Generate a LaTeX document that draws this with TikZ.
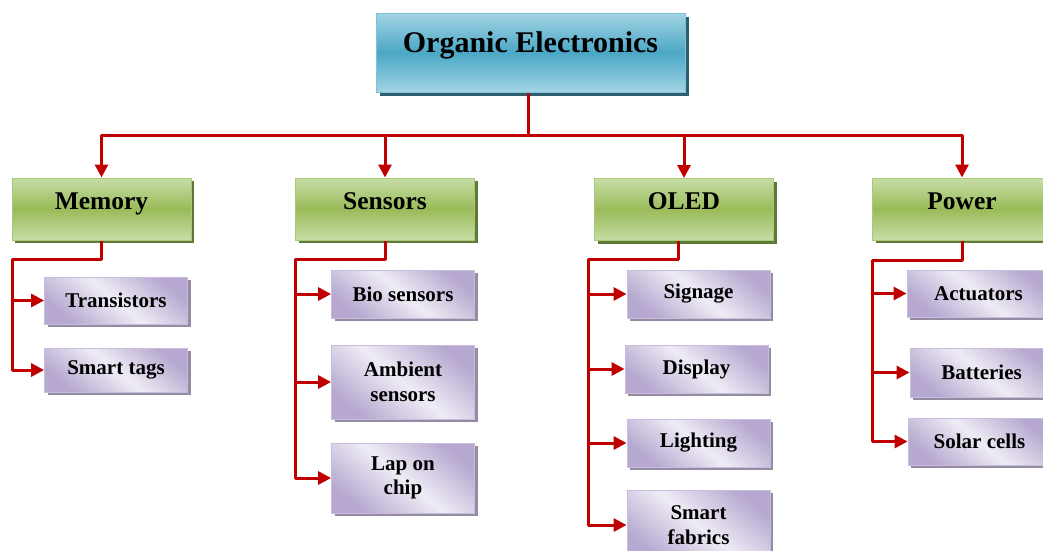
\documentclass[tikz,border=0pt]{standalone}
\usepackage{fontspec}
\setmainfont{Liberation Serif}
\usetikzlibrary{arrows.meta,shadows,calc}
\definecolor{topl}{HTML}{A3D4E4}
\definecolor{topm}{HTML}{4BA7C6}
\definecolor{topb}{HTML}{7EC3D8}
\definecolor{tops}{HTML}{2F5F6E}
\definecolor{grl}{HTML}{C6DDA6}
\definecolor{grm}{HTML}{9BBB59}
\definecolor{grb}{HTML}{A9C87A}
\definecolor{grs}{HTML}{5F7A38}
\definecolor{pud}{HTML}{B6A8D0}
\definecolor{pul}{HTML}{EFECF5}
\definecolor{pub}{HTML}{C8BDDC}
\definecolor{pus}{HTML}{938CA3}
\definecolor{linkred}{HTML}{C00000}
\tikzset{
  topbox/.style={draw=topb, line width=1pt, top color=topl, bottom color=topl, middle color=topm,
    minimum width=309pt, minimum height=79pt, font=\fontsize{30}{34}\selectfont\bfseries,
    text height=20pt, text depth=20pt,
    drop shadow={shadow xshift=4pt, shadow yshift=-4pt, fill=tops, opacity=1}},
  catbox/.style={draw=grb, line width=1pt, top color=grl, bottom color=grl, middle color=grm,
    minimum width=179pt, minimum height=62pt, font=\fontsize{25.5}{28}\selectfont\bfseries,
    text height=15pt, text depth=15pt,
    drop shadow={shadow xshift=3pt, shadow yshift=-3pt, fill=grs, opacity=1}},
  itembox/.style={draw=pub, line width=0.8pt, top color=pud, bottom color=pud, middle color=pul,
    shading angle=-40, minimum width=143pt, align=center,
    font=\fontsize{21}{24.5}\selectfont\bfseries,
    drop shadow={shadow xshift=3pt, shadow yshift=-3pt, fill=pus, opacity=1}},
  link/.style={draw=linkred, line width=3pt, line join=round},
  arr/.style={link, -{Triangle[length=13pt,width=13pt]}}
}
\begin{document}
\begin{tikzpicture}[x=1pt,y=-1pt]
\useasboundingbox (0,0) rectangle (1043,550);
\clip (0,0) rectangle (1043,550);
\fill[white] (0,0) rectangle (1043,550);

% top
\node[topbox] (top) at (530.5,52.5) {Organic Electronics};

% categories
\node[catbox] (mem) at (101.5,209) {Memory};
\node[catbox] (sen) at (385,209) {Sensors};
\node[catbox] (ol) at (684,209.5) {OLED};
\node[catbox] (pow) at (962,209) {Power};

% items
\node[itembox, minimum height=47pt] (tra) at (116,300.5) {Transistors};
\node[itembox, minimum height=44pt] (sma) at (116,370) {Smart tags};

\node[itembox, minimum height=48pt] (bio) at (403,294) {Bio sensors};
\node[itembox, minimum height=74pt] (amb) at (403,382) {Ambient\\sensors};
\node[itembox, minimum height=70pt] (lap) at (403,478) {Lap on\\chip};

\node[itembox, minimum height=48pt] (sig) at (698.5,294) {Signage};
\node[itembox, minimum height=48pt] (dis) at (696.5,369) {Display};
\node[itembox, minimum height=48pt] (lig) at (698.5,443) {Lighting};
\node[itembox, minimum height=70pt] (sfa) at (698.5,525) {Smart\\fabrics};

\node[itembox, minimum height=47pt] (act) at (978.5,293.5) {Actuators};
\node[itembox, minimum height=49pt] (bat) at (981.5,372.5) {Batteries};
\node[itembox, minimum height=47pt] (sol) at (979.5,441.5) {Solar cells};

% top connectors
\coordinate (hub) at (528,135);
\draw[link] (top.south -| hub) -- (hub);
\draw[arr] (hub) -| (mem.north);
\draw[arr] (hub) -| (sen.north);
\draw[arr] (hub) -| (ol.north);
\draw[arr] (hub) -| (pow.north);

% memory branch
\coordinate (m1) at (12,259);
\draw[arr] (mem.south) |- (m1) |- (sma.west);
\draw[arr] (m1 |- tra.west) -- (tra.west);

% sensors branch
\coordinate (s1) at (295,259);
\draw[arr] (sen.south) |- (s1) |- (lap.west);
\draw[arr] (s1 |- bio.west) -- (bio.west);
\draw[arr] (s1 |- amb.west) -- (amb.west);

% oled branch
\coordinate (o1) at (588,259);
\draw[arr] ($(ol.south)+(-6,0)$) |- (o1) |- (sfa.west);
\draw[arr] (o1 |- sig.west) -- (sig.west);
\draw[arr] (o1 |- dis.west) -- (dis.west);
\draw[arr] (o1 |- lig.west) -- (lig.west);

% power branch
\coordinate (p1) at (872,260);
\draw[arr] (pow.south) |- (p1) |- (sol.west);
\draw[arr] (p1 |- act.west) -- (act.west);
\draw[arr] (p1 |- bat.west) -- (bat.west);
\end{tikzpicture}
\end{document}
